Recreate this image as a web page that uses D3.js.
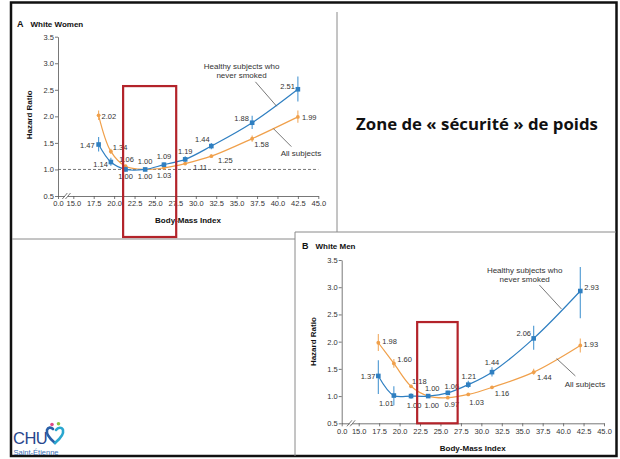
<!DOCTYPE html>
<html><head><meta charset="utf-8">
<script src="https://cdn.jsdelivr.net/npm/d3@7"></script>
<style>
html,body{margin:0;padding:0;background:#fff;}
svg{display:block;font-family:"Liberation Sans",Arial,sans-serif;}
</style></head><body>
<svg id="chart" width="620" height="459"></svg>
<script>
// ---- data: hazard ratio of death by body-mass index category ----
const bmiTicks = [0, 15, 17.5, 20, 22.5, 25, 27.5, 30, 32.5, 35, 37.5, 40, 42.5, 45];
const hrTicks = [0.5, 1.0, 1.5, 2.0, 2.5, 3.0, 3.5];

const bmiWomen = [18.1, 19.6, 21.4, 23.8, 26.1, 28.7, 31.9, 36.9, 42.5];
const womenHealthy   = [1.47, 1.14, 1.00, 1.00, 1.09, 1.19, 1.44, 1.88, 2.51];
const womenHealthyLo = [1.34, 1.07, 0.96, 1.00, 1.05, 1.14, 1.38, 1.76, 2.28];
const womenHealthyHi = [1.61, 1.22, 1.05, 1.00, 1.13, 1.25, 1.50, 2.01, 2.75];
const womenAll   = [2.02, 1.34, 1.06, 1.00, 1.03, 1.11, 1.25, 1.58, 1.99];
const womenAllLo = [1.93, 1.29, 1.04, 1.00, 1.02, 1.09, 1.23, 1.52, 1.88];
const womenAllHi = [2.11, 1.39, 1.08, 1.00, 1.04, 1.13, 1.28, 1.64, 2.11];

const bmiMen = [17.4, 19.3, 21.4, 23.5, 25.9, 28.4, 31.3, 36.4, 42.1];
const menHealthy   = [1.37, 1.01, 1.00, 1.00, 1.06, 1.21, 1.44, 2.06, 2.93];
const menHealthyLo = [1.04, 0.83, 0.95, 1.00, 1.02, 1.15, 1.36, 1.85, 2.43];
const menHealthyHi = [1.66, 1.18, 1.05, 1.00, 1.10, 1.28, 1.53, 2.29, 3.37];
const menAll   = [1.98, 1.60, 1.18, 1.00, 0.97, 1.03, 1.16, 1.44, 1.93];
const menAllLo = [1.83, 1.52, 1.15, 1.00, 0.96, 1.02, 1.14, 1.39, 1.80];
const menAllHi = [2.14, 1.68, 1.21, 1.00, 0.98, 1.04, 1.18, 1.50, 2.06];

const seriesNames = ["Healthy subjects who", "never smoked", "All subjects"];

// ---- styles ----
const BLUE = "#2f7fc1", BLUE_BAR = "#4a97d2";
const ORANGE = "#f0a04b", ORANGE_BAR = "#f2ac62";
const INK = "#333", AXIS = "#555";

const svg = d3.select("#chart");

// slide frame and panel separators
svg.append("rect").attr("x", 11).attr("y", 2.5).attr("width", 605.5).attr("height", 453.5)
  .attr("fill", "none").attr("stroke", "#111").attr("stroke-width", 2.5);
const sep = svg.append("g").attr("stroke", "#8a8a8a").attr("stroke-width", 1).attr("fill", "none");
sep.append("path").attr("d", "M337,12V232");
sep.append("path").attr("d", "M12,239H295");
sep.append("path").attr("d", "M295,456V232H616");

// label placement per point: [dx, dy, anchor]
const labelsWomenHealthy = [[-4,3.5,"end"],[-3,5,"end"],[0,10,"middle"],[0,-5.3,"middle"],[0,-6,"middle"],[0,-5.6,"middle"],[-9,-3.7,"middle"],[-10.5,-1.3,"middle"],[-3,0,"end"]];
const labelsWomenAll = [[3,3.6,"start"],[2,-1.6,"start"],[1,-4,"middle"],[0,9.7,"middle"],[0,10,"middle"],[15,6,"middle"],[14,7,"middle"],[9.5,8.5,"middle"],[4,3.5,"start"]];
const labelsMenHealthy = [[-3,3.5,"end"],[-7.6,10,"middle"],[3,12,"middle"],[4,-4.8,"middle"],[4,-3.8,"middle"],[0.5,-6,"middle"],[0,-7,"middle"],[-10,-2.7,"middle"],[4,-1.4,"start"]];
const labelsMenAll = [[4,1.2,"start"],[3.5,-1.2,"start"],[1,-2.3,"start"],[3.5,12,"middle"],[4,9.3,"middle"],[8.4,10.2,"middle"],[10,9,"middle"],[10.7,7.5,"middle"],[3.3,1.5,"start"]];

function drawPanel(p) {
  const x = d3.scaleLinear().domain([0, 15, 45]).range(p.xRange);
  const y = d3.scaleLinear().domain([0.5, 3.5]).range(p.yRange);
  const g = svg.append("g");

  // panel title
  g.append("text").attr("x", p.titleX).attr("y", p.titleY)
    .attr("font-size", 9).attr("font-weight", "bold").attr("fill", "#111").text(p.letter);
  g.append("text").attr("x", p.titleX + 13.5).attr("y", p.titleY)
    .attr("font-size", 8).attr("font-weight", "bold").attr("fill", "#111").text(p.title);

  // axes
  const ax = g.append("g").attr("transform", `translate(0,${y(0.5)})`)
    .call(d3.axisBottom(x).tickValues(bmiTicks).tickSize(3).tickSizeOuter(0).tickPadding(2)
      .tickFormat(d3.format(".1f")));
  const ay = g.append("g").attr("transform", `translate(${x(0)},0)`)
    .call(d3.axisLeft(y).tickValues(hrTicks).tickSize(3).tickSizeOuter(0).tickPadding(1)
      .tickFormat(d3.format(".1f")));
  [ax, ay].forEach(a => {
    a.selectAll("path,line").attr("stroke", AXIS).attr("stroke-width", 0.8);
    a.selectAll("text").attr("fill", INK).attr("font-size", 7.5)
      .attr("font-family", "'Liberation Sans',Arial,sans-serif");
  });

  // axis break marks between 0 and 15
  const bx = x(0) + (x(15) - x(0)) * 0.55, by = y(0.5);
  g.append("rect").attr("x", bx - 1.5).attr("y", by - 1).attr("width", 3).attr("height", 2).attr("fill", "#fff");
  [-1.6, 1.6].forEach(o => g.append("line")
    .attr("x1", bx + o - 2.5).attr("y1", by + 3).attr("x2", bx + o + 2.5).attr("y2", by - 3)
    .attr("stroke", AXIS).attr("stroke-width", 0.8));

  // axis titles
  g.append("text").attr("transform", `translate(${p.yTitleX},${(y(0.5) + y(3.5)) / 2 + p.yTitleShift}) rotate(-90)`)
    .attr("text-anchor", "middle").attr("font-size", 8).attr("font-weight", "bold").attr("fill", "#111")
    .text("Hazard Ratio");
  g.append("text").attr("x", p.xTitleX).attr("y", p.xTitleY)
    .attr("text-anchor", "middle").attr("font-size", 8).attr("font-weight", "bold").attr("fill", "#111")
    .text("Body-Mass Index");

  // reference line at HR = 1
  if (p.refLine) {
    g.append("line").attr("x1", x(0)).attr("x2", x(45)).attr("y1", y(1)).attr("y2", y(1))
      .attr("stroke", "#555").attr("stroke-width", 0.8).attr("stroke-dasharray", "3,2");
  }

  const line = d3.line().x(d => x(d.bmi)).y(d => y(d.hr)).curve(d3.curveCatmullRom.alpha(0.5));

  function series(bmi, hr, lo, hi, color, barColor, marker, labels) {
    const pts = bmi.map((b, i) => ({ bmi: b, hr: hr[i], lo: lo[i], hi: hi[i], lab: labels[i] }));
    g.append("path").datum(pts).attr("d", line).attr("fill", "none")
      .attr("stroke", color).attr("stroke-width", 1.2);
    g.selectAll(null).data(pts).join("line")
      .attr("x1", d => x(d.bmi)).attr("x2", d => x(d.bmi))
      .attr("y1", d => y(d.lo)).attr("y2", d => y(d.hi))
      .attr("stroke", barColor).attr("stroke-width", 1.1);
    if (marker === "square") {
      g.selectAll(null).data(pts).join("rect")
        .attr("x", d => x(d.bmi) - 2.3).attr("y", d => y(d.hr) - 2.3)
        .attr("width", 4.6).attr("height", 4.6).attr("fill", color);
    } else {
      g.selectAll(null).data(pts).join("circle")
        .attr("cx", d => x(d.bmi)).attr("cy", d => y(d.hr)).attr("r", 1.9).attr("fill", color);
    }
    g.selectAll(null).data(pts).join("text")
      .attr("x", d => x(d.bmi) + d.lab[0]).attr("y", d => y(d.hr) + d.lab[1])
      .attr("text-anchor", d => d.lab[2]).attr("font-size", 7.5).attr("fill", INK)
      .text(d => d.hr.toFixed(2));
  }

  series(p.bmi, p.all, p.allLo, p.allHi, ORANGE, ORANGE_BAR, "dot", p.allLabels);
  series(p.bmi, p.healthy, p.healthyLo, p.healthyHi, BLUE, BLUE_BAR, "square", p.healthyLabels);

  // series annotations with leader lines
  const a = p.notes;
  g.append("text").attr("x", x(a.healthy[0])).attr("y", y(a.healthy[1]))
    .attr("text-anchor", "middle").attr("font-size", 8).attr("fill", INK)
    .selectAll("tspan").data(seriesNames.slice(0, 2)).join("tspan")
    .attr("x", x(a.healthy[0])).attr("dy", (d, i) => i ? 9.5 : 0).text(d => d);
  g.append("text").attr("x", x(a.all[0])).attr("y", y(a.all[1]))
    .attr("font-size", 8).attr("fill", INK).text(seriesNames[2]);
  [a.healthyLeader, a.allLeader].forEach(l => g.append("line")
    .attr("x1", x(l[0])).attr("y1", y(l[1])).attr("x2", x(l[2])).attr("y2", y(l[3]))
    .attr("stroke", "#555").attr("stroke-width", 0.8));

  // highlighted BMI zone
  g.append("rect").attr("x", x(p.zone[0])).attr("y", y(p.zone[2]))
    .attr("width", x(p.zone[1]) - x(p.zone[0])).attr("height", p.zoneBottom - y(p.zone[2]))
    .attr("fill", "none").attr("stroke", "#b3232a").attr("stroke-width", 2.2);
}

drawPanel({
  letter: "A", title: "White Women", titleX: 17, titleY: 26.5,
  xRange: [58, 73.3, 318.3], yRange: [196, 36.7],
  yTitleX: 31.5, yTitleShift: -1.5, xTitleX: 188, xTitleY: 223,
  refLine: true,
  bmi: bmiWomen, healthy: womenHealthy, healthyLo: womenHealthyLo, healthyHi: womenHealthyHi,
  all: womenAll, allLo: womenAllLo, allHi: womenAllHi,
  healthyLabels: labelsWomenHealthy, allLabels: labelsWomenAll,
  notes: { healthy: [35.6, 2.90], all: [40.4, 1.26],
           healthyLeader: [37.3, 2.65, 39.9, 2.19], allLeader: [41.7, 1.43, 39.5, 1.77] },
  zone: [21.1, 27.6, 2.57], zoneBottom: 237
});

drawPanel({
  letter: "B", title: "White Men", titleX: 302, titleY: 248.5,
  xRange: [341.7, 358.7, 604], yRange: [423.3, 260],
  yTitleX: 315.5, yTitleShift: 0, xTitleX: 472.7, xTitleY: 451,
  refLine: false,
  bmi: bmiMen, healthy: menHealthy, healthyLo: menHealthyLo, healthyHi: menHealthyHi,
  all: menAll, allLo: menAllLo, allHi: menAllHi,
  healthyLabels: labelsMenHealthy, allLabels: labelsMenAll,
  notes: { healthy: [35.3, 3.27], all: [40.2, 1.17],
           healthyLeader: [37.1, 3.04, 39.8, 2.60], allLeader: [41.5, 1.37, 39.2, 1.69] },
  zone: [22.15, 27.1, 2.36], zoneBottom: 423.3
});

// headline
svg.append("text").attr("x", 477).attr("y", 129.5).attr("text-anchor", "middle")
  .attr("font-family", "'Open Sans',Lato,sans-serif").attr("font-weight", 700)
  .attr("font-size", 16.8).attr("fill", "#111")
  .text("Zone de « sécurité » de poids");

// hospital logo
const logo = svg.append("g");
logo.append("text").attr("x", 13).attr("y", 443.5).attr("font-size", 16.5).attr("letter-spacing", -0.5)
  .attr("fill", "#27468c").text("CHU");
logo.append("text").attr("x", 13.5).attr("y", 455).attr("font-size", 7.5)
  .attr("fill", "#3b6fb6").text("Saint-Étienne");
logo.append("path").attr("d", "M55,443 C49,438 46,434 47,430 C48,427 51,427 53,429")
  .attr("fill", "none").attr("stroke", "#2a5fa8").attr("stroke-width", 2.6).attr("stroke-linecap", "round");
logo.append("path").attr("d", "M55,443 C61,438 64,434 63,430 C62,427 58,427 56,430")
  .attr("fill", "none").attr("stroke", "#2aa7cf").attr("stroke-width", 2.6).attr("stroke-linecap", "round");
logo.append("circle").attr("cx", 52).attr("cy", 424.5).attr("r", 1.8).attr("fill", "#e04a86");
logo.append("circle").attr("cx", 58.5).attr("cy", 423.8).attr("r", 1.8).attr("fill", "#8cc63f");
</script>
</body></html>
